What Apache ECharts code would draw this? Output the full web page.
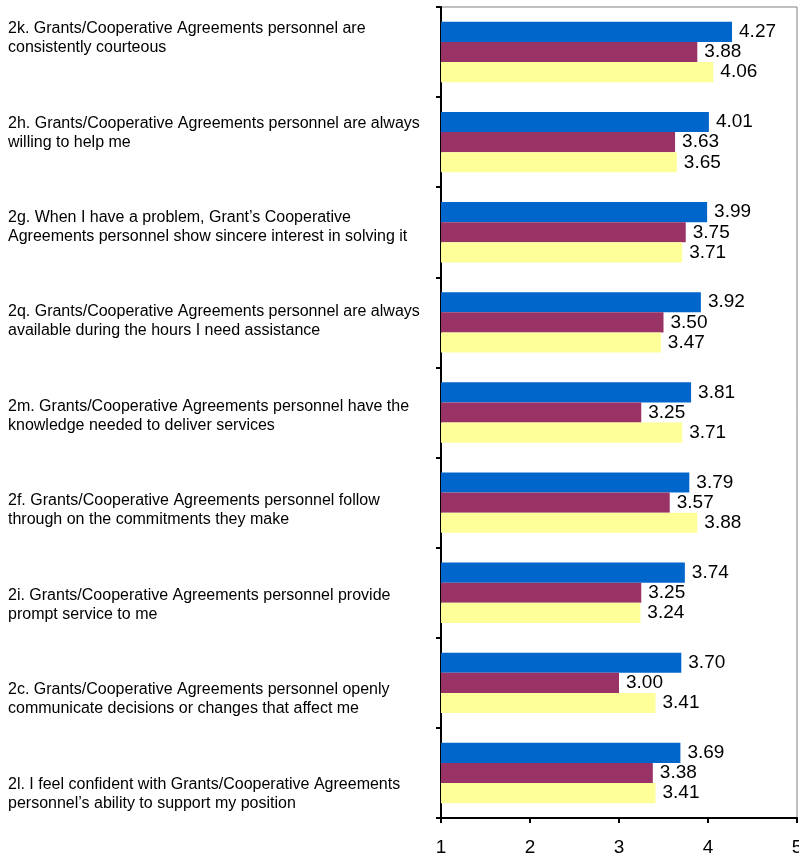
<!DOCTYPE html>
<html>
<head>
<meta charset="utf-8">
<script src="https://cdn.jsdelivr.net/npm/echarts@6/dist/echarts.min.js"></script>
<style>
  html, body { margin: 0; padding: 0; background: #fff; }
  #chart { width: 799px; height: 854px; }
</style>
</head>
<body>
<div id="chart"></div>
<script>
// Survey statements, listed top to bottom
const categories = [
  "2k. Grants/Cooperative Agreements personnel are\nconsistently courteous",
  "2h. Grants/Cooperative Agreements personnel are always\nwilling to help me",
  "2g. When I have a problem, Grant\u2019s Cooperative\nAgreements personnel show sincere interest in solving it",
  "2q. Grants/Cooperative Agreements personnel are always\navailable during the hours I need assistance",
  "2m. Grants/Cooperative Agreements personnel have the\nknowledge needed to deliver services",
  "2f. Grants/Cooperative Agreements personnel follow\nthrough on the commitments they make",
  "2i. Grants/Cooperative Agreements personnel provide\nprompt service to me",
  "2c. Grants/Cooperative Agreements personnel openly\ncommunicate decisions or changes that affect me",
  "2l. I feel confident with Grants/Cooperative Agreements\npersonnel\u2019s ability to support my position"
];

// Mean ratings per group
const groupA = [4.27, 4.01, 3.99, 3.92, 3.81, 3.79, 3.74, 3.70, 3.69];
const groupB = [3.88, 3.63, 3.75, 3.50, 3.25, 3.57, 3.25, 3.00, 3.38];
const groupC = [4.06, 3.65, 3.71, 3.47, 3.71, 3.88, 3.24, 3.41, 3.41];

// Rating scale
const scaleMin = 1;
const scaleMax = 5;
const scaleStep = 1;

const FONT = '"Liberation Sans", Arial, Helvetica, sans-serif';

const chart = echarts.init(document.getElementById('chart'), null, { renderer: 'canvas' });

function barSeries(name, data, color) {
  return {
    name: name,
    type: 'bar',
    xAxisIndex: 0,
    yAxisIndex: 0,
    data: data,
    barGap: '0%',
    barCategoryGap: '33%',
    itemStyle: { color: color },
    clip: true,
    silent: true,
    label: {
      show: true,
      position: 'right',
      distance: 7,
      color: '#000',
      fontFamily: FONT,
      fontSize: 19,
      formatter: p => p.value.toFixed(2)
    }
  };
}

chart.setOption({
  animation: false,
  backgroundColor: '#fff',
  grid: [
    {
      left: 441, right: 2, top: 7, bottom: 36,
      show: true, borderColor: '#808080', borderWidth: 1,
      containLabel: false, outerBoundsMode: 'none'
    },
    {
      // statement text column
      left: 441, right: 2, top: -9, bottom: 13,
      containLabel: false, outerBoundsMode: 'none'
    }
  ],
  xAxis: [
    {
      gridIndex: 0,
      type: 'value',
      min: scaleMin, max: scaleMax, interval: scaleStep,
      splitLine: { show: false },
      axisLine: { show: true, lineStyle: { color: '#000', width: 2 } },
      axisTick: { show: true, length: 5, lineStyle: { color: '#000', width: 2 } },
      axisLabel: { color: '#000', fontFamily: FONT, fontSize: 19, margin: 20 }
    },
    { gridIndex: 1, type: 'value', show: false }
  ],
  yAxis: [
    {
      gridIndex: 0,
      type: 'category',
      data: categories,
      inverse: true,
      axisLine: { show: true, lineStyle: { color: '#000', width: 2 } },
      axisTick: { show: true, length: 5, lineStyle: { color: '#000', width: 2 } },
      axisLabel: { show: false },
      splitLine: { show: false }
    },
    {
      gridIndex: 1,
      type: 'category',
      data: categories,
      inverse: true,
      axisLine: { show: false },
      axisTick: { show: false },
      splitLine: { show: false },
      axisLabel: {
        interval: 0,
        align: 'left',
        margin: 433,
        color: '#000',
        fontFamily: FONT,
        fontSize: 16,
        lineHeight: 19
      }
    }
  ],
  series: [
    barSeries('Group A', groupA, '#0066CC'),
    barSeries('Group B', groupB, '#993366'),
    barSeries('Group C', groupC, '#FFFF99')
  ]
});
</script>
</body>
</html>
